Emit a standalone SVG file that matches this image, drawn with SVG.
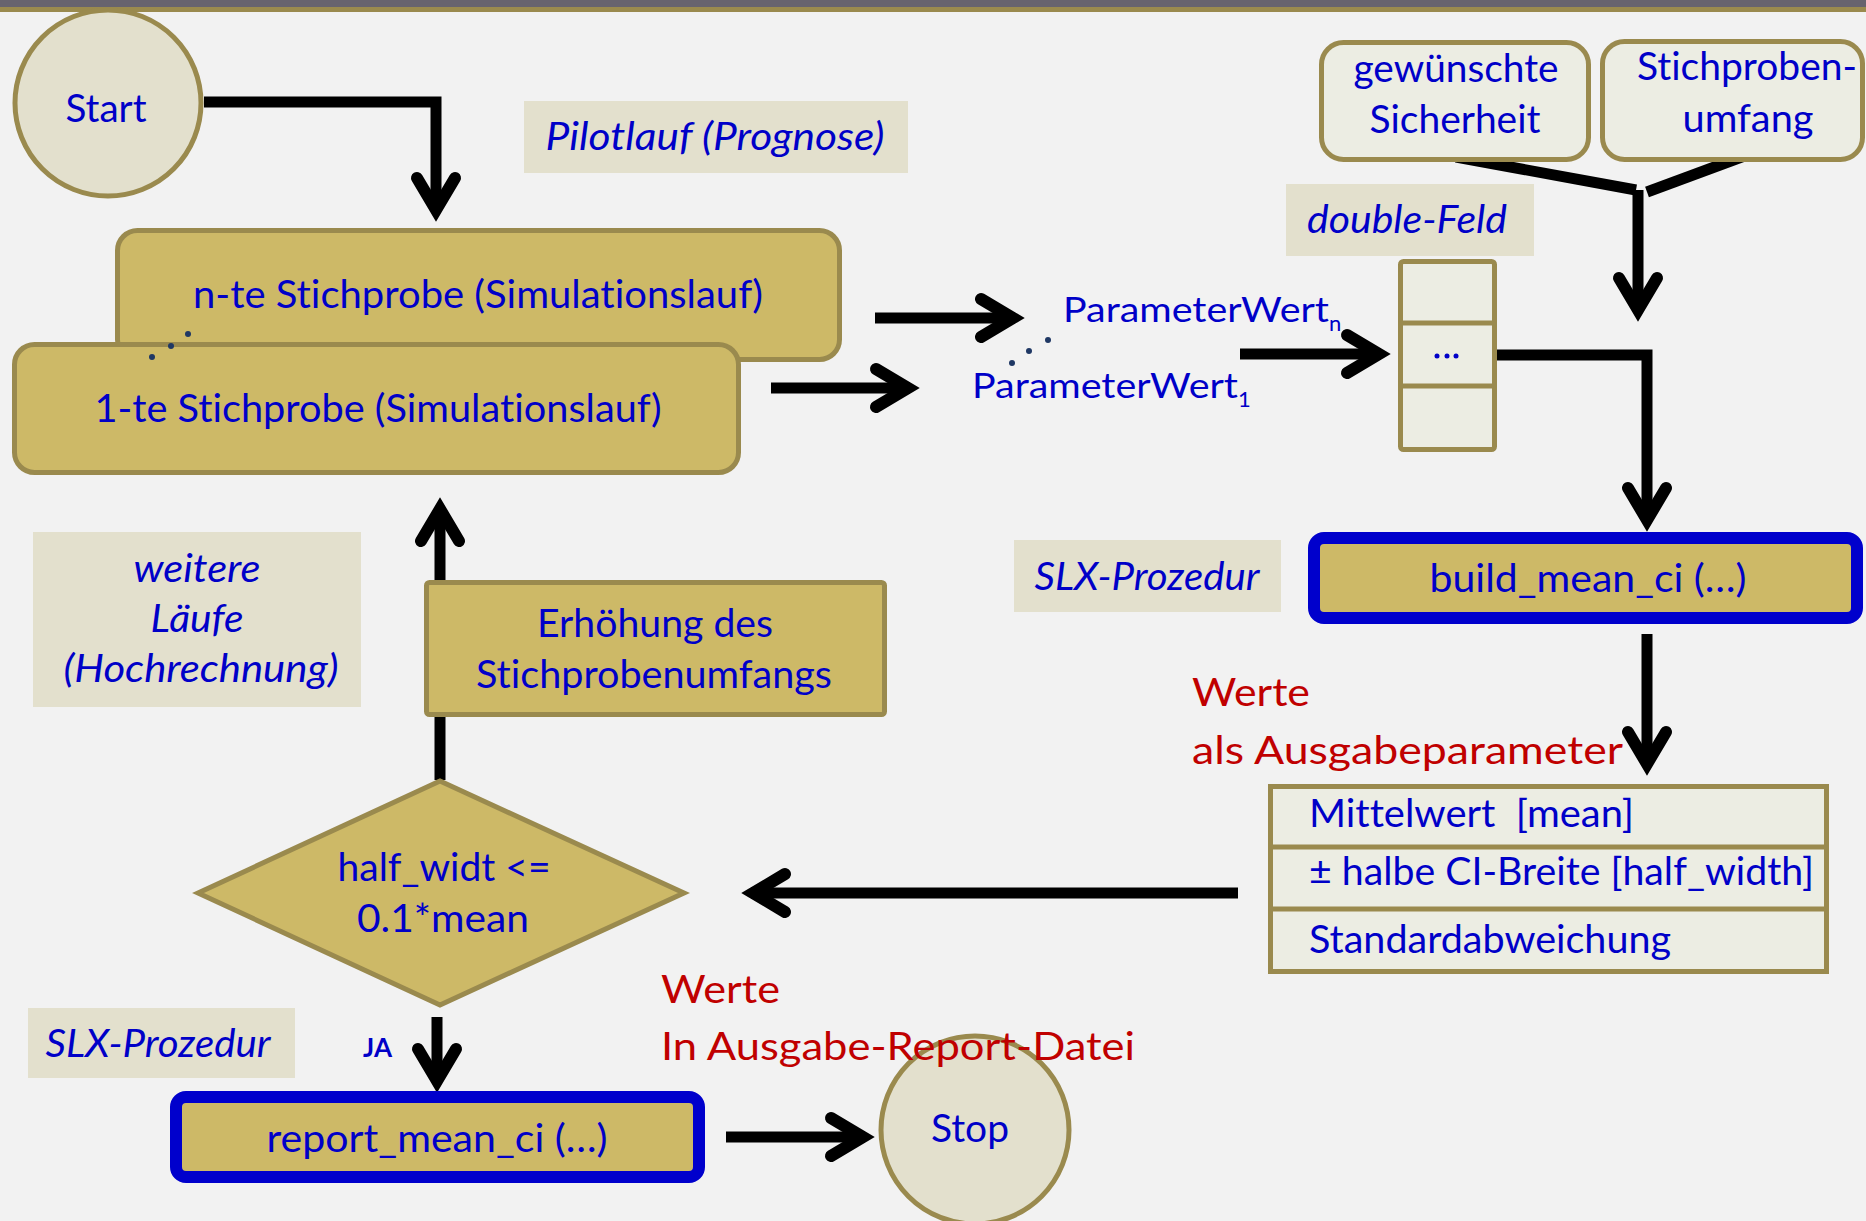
<svg xmlns="http://www.w3.org/2000/svg" width="1866" height="1221" viewBox="0 0 1866 1221">
  <defs>
    <style>
      text, tspan { font-family: Lato, "Open Sans", "Liberation Sans", sans-serif; font-size: 38px; fill: #0000c8; font-variant-ligatures: none; }
      .c { text-anchor: middle; }
      .it { font-style: italic; }
      .red { fill: #c00000; }
      .pre { white-space: pre; }
      .gold { fill: #cdb967; stroke: #9a8a4e; stroke-width: 5; }
      .pale { fill: #ecede3; stroke: #9a8a4e; stroke-width: 5; }
      .term { fill: #e3e0cd; stroke: #9a8a4e; stroke-width: 5; }
      .proc { fill: #cdb967; stroke: #0000cc; stroke-width: 12; }
      .label { fill: #e3e0cd; }
      .rule { stroke: #9a8a4e; stroke-width: 5; }
      .conn { fill: none; stroke: #000; stroke-width: 11; stroke-linejoin: miter; }
      .arr { marker-end: url(#chev); }
    </style>
    <!-- open chevron arrowhead; line end sits at the chevron's inner vertex -->
    <marker id="chev" markerUnits="userSpaceOnUse" viewBox="-56 -30 60 60" refX="-12" refY="0"
            markerWidth="60" markerHeight="60" orient="auto" overflow="visible">
      <path d="M-44,-19 L-12,0 L-44,19" fill="none" stroke="#000" stroke-width="12"
            stroke-linecap="round" stroke-linejoin="miter"/>
    </marker>
  </defs>

  <!-- page background and header band -->
  <rect x="0" y="0" width="1866" height="1221" fill="#f2f2f2"/>
  <rect x="0" y="7" width="1866" height="5" fill="#9a8a4e"/>

  <!-- connectors -->
  <g id="connectors">
    <path class="conn arr" d="M204,102 H436 V210"/>
    <path class="conn arr" d="M875,318 H1013"/>
    <path class="conn arr" d="M771,388 H908"/>
    <path class="conn arr" d="M1240,354 H1379"/>
    <path class="conn" d="M1456,157 L1636,190"/>
    <path class="conn" d="M1747,155 L1647,192"/>
    <path class="conn arr" d="M1638,190 V310"/>
    <path class="conn arr" d="M1497,355 H1647 V520"/>
    <path class="conn arr" d="M1647,634 V764"/>
    <path class="conn arr" d="M1238,893 H753"/>
    <path class="conn" d="M440,780 V717"/>
    <path class="conn arr" d="M440,580 V509"/>
    <path class="conn arr" d="M437,1017 V1081"/>
    <path class="conn arr" d="M726,1137 H863"/>
  </g>

  <!-- start terminal -->
  <g id="start">
    <circle class="term" cx="108" cy="103" r="93"/>
    <text class="c" x="106" y="122" textLength="81" lengthAdjust="spacingAndGlyphs">Start</text>
  </g>

  <!-- header band drawn over the start circle -->
  <rect x="0" y="0" width="1866" height="7" fill="#67636e"/>

  <g id="label-pilot">
    <rect class="label" x="524" y="101" width="384" height="72"/>
    <text class="c it" x="715" y="150" textLength="339" lengthAdjust="spacingAndGlyphs">Pilotlauf (Prognose)</text>
  </g>

  <!-- stacked sample runs -->
  <g id="sample-n">
    <rect class="gold" x="117.5" y="230.5" width="722" height="129" rx="20"/>
    <text class="c" x="478" y="308" textLength="570" lengthAdjust="spacingAndGlyphs">n-te Stichprobe (Simulationslauf)</text>
  </g>
  <g id="sample-1">
    <rect class="gold" x="14.5" y="344.5" width="724" height="128" rx="20"/>
    <text class="c" x="378" y="422" textLength="567" lengthAdjust="spacingAndGlyphs">1-te Stichprobe (Simulationslauf)</text>
  </g>
  <g id="sample-dots" fill="#1f3864">
    <circle cx="152" cy="357" r="3"/>
    <circle cx="171" cy="346" r="3"/>
    <circle cx="188" cy="334" r="3"/>
  </g>

  <!-- parameter values -->
  <g id="param-n">
    <text x="1063" y="322"><tspan style="font-size:35px" textLength="266" lengthAdjust="spacingAndGlyphs">ParameterWert</tspan><tspan dy="9" style="font-size:22px">n</tspan></text>
  </g>
  <g id="param-1">
    <text x="972" y="398"><tspan style="font-size:35px" textLength="266" lengthAdjust="spacingAndGlyphs">ParameterWert</tspan><tspan dy="9" style="font-size:22px">1</tspan></text>
  </g>
  <g id="param-dots" fill="#1f3864">
    <circle cx="1012" cy="363" r="3"/>
    <circle cx="1029" cy="351" r="3"/>
    <circle cx="1048" cy="340" r="3"/>
  </g>

  <!-- inputs -->
  <g id="input-sicherheit">
    <rect class="pale" x="1321.5" y="42.5" width="267" height="117" rx="22"/>
    <text class="c" x="1456" y="82" textLength="205" lengthAdjust="spacingAndGlyphs">gewünschte</text>
    <text class="c" x="1455" y="133" textLength="171" lengthAdjust="spacingAndGlyphs">Sicherheit</text>
  </g>
  <g id="input-umfang">
    <rect class="pale" x="1602.5" y="41.5" width="260" height="118" rx="22"/>
    <text class="c" x="1747" y="80" textLength="220" lengthAdjust="spacingAndGlyphs">Stichproben-</text>
    <text class="c" x="1748" y="132" textLength="131" lengthAdjust="spacingAndGlyphs">umfang</text>
  </g>

  <g id="label-double">
    <rect class="label" x="1286" y="184" width="248" height="72"/>
    <text class="c it" x="1407" y="233" textLength="200" lengthAdjust="spacingAndGlyphs">double-Feld</text>
  </g>

  <!-- double array -->
  <g id="array">
    <rect class="pale" x="1400.5" y="261.5" width="94" height="188" rx="3"/>
    <line class="rule" x1="1400" y1="323" x2="1495" y2="323"/>
    <line class="rule" x1="1400" y1="386" x2="1495" y2="386"/>
    <g fill="#0000c8">
      <circle cx="1437" cy="356" r="2.5"/>
      <circle cx="1447" cy="356" r="2.5"/>
      <circle cx="1456" cy="356" r="2.5"/>
    </g>
  </g>

  <g id="label-slx-build">
    <rect class="label" x="1014" y="540" width="267" height="72"/>
    <text class="c it" x="1147" y="590" textLength="225" lengthAdjust="spacingAndGlyphs">SLX-Prozedur</text>
  </g>
  <g id="build">
    <rect class="proc" x="1314" y="538" width="543" height="80" rx="10"/>
    <text class="c" x="1588" y="592" textLength="317" lengthAdjust="spacingAndGlyphs">build_mean_ci (…)</text>
  </g>

  <g id="note-output">
    <text class="red" x="1192" y="706" textLength="118" lengthAdjust="spacingAndGlyphs">Werte</text>
    <text class="red" x="1192" y="764" textLength="431" lengthAdjust="spacingAndGlyphs">als Ausgabeparameter</text>
  </g>

  <!-- output parameter table -->
  <g id="results">
    <rect class="pale" x="1270.5" y="786.5" width="556" height="185"/>
    <line class="rule" x1="1270" y1="847" x2="1827" y2="847"/>
    <line class="rule" x1="1270" y1="909" x2="1827" y2="909"/>
    <text class="pre" x="1309" y="827" textLength="325" lengthAdjust="spacingAndGlyphs">Mittelwert  [mean]</text>
    <text x="1309" y="885" textLength="505" lengthAdjust="spacingAndGlyphs">± halbe CI-Breite [half_width]</text>
    <text x="1309" y="953" textLength="362" lengthAdjust="spacingAndGlyphs">Standardabweichung</text>
  </g>

  <g id="label-weitere">
    <rect class="label" x="33" y="532" width="328" height="175"/>
    <text class="c it" x="197" y="582" textLength="127" lengthAdjust="spacingAndGlyphs">weitere</text>
    <text class="c it" x="197" y="632" textLength="93" lengthAdjust="spacingAndGlyphs">Läufe</text>
    <text class="c it" x="201" y="682" textLength="275" lengthAdjust="spacingAndGlyphs">(Hochrechnung)</text>
  </g>

  <g id="increase">
    <rect class="gold" x="426.5" y="582.5" width="458" height="132" rx="3"/>
    <text class="c" x="655" y="637" textLength="236" lengthAdjust="spacingAndGlyphs">Erhöhung des</text>
    <text class="c" x="654" y="688" textLength="356" lengthAdjust="spacingAndGlyphs">Stichprobenumfangs</text>
  </g>

  <g id="decision">
    <polygon class="gold" points="198,893 440,781 684,893 440,1005"/>
    <text class="c" x="444" y="881" textLength="213" lengthAdjust="spacingAndGlyphs">half_widt &lt;=</text>
    <text class="c" x="443" y="932" textLength="172" lengthAdjust="spacingAndGlyphs">0.1*mean</text>
  </g>

  <g id="label-ja">
    <text x="363" y="1057" style="font-size:26px;font-weight:bold" textLength="29" lengthAdjust="spacingAndGlyphs">JA</text>
  </g>

  <g id="label-slx-report">
    <rect class="label" x="28" y="1008" width="267" height="70"/>
    <text class="c it" x="158" y="1057" textLength="225" lengthAdjust="spacingAndGlyphs">SLX-Prozedur</text>
  </g>
  <g id="report">
    <rect class="proc" x="176" y="1097" width="523" height="80" rx="10"/>
    <text class="c" x="437" y="1152" textLength="341" lengthAdjust="spacingAndGlyphs">report_mean_ci (…)</text>
  </g>

  <!-- stop terminal -->
  <g id="stop">
    <circle class="term" cx="975" cy="1130" r="94"/>
    <text class="c" x="970" y="1142" textLength="78" lengthAdjust="spacingAndGlyphs">Stop</text>
  </g>

  <g id="note-report">
    <text class="red" x="661" y="1003" textLength="119" lengthAdjust="spacingAndGlyphs">Werte</text>
    <text class="red" x="661" y="1060" textLength="474" lengthAdjust="spacingAndGlyphs">In Ausgabe-Report-Datei</text>
  </g>
</svg>
